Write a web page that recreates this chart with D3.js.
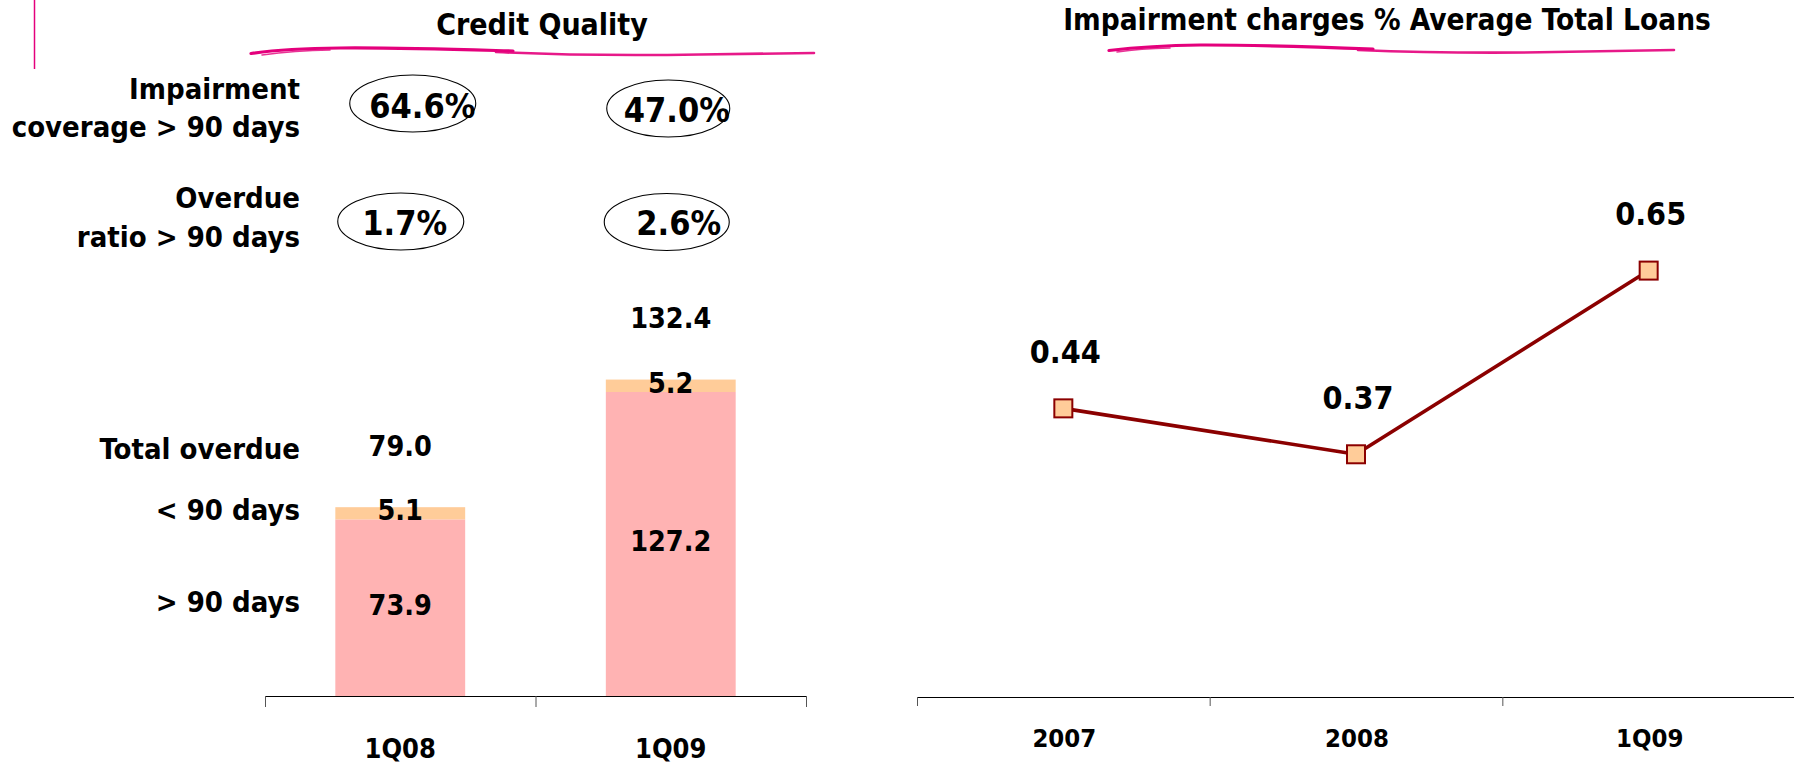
<!DOCTYPE html>
<html>
<head>
<meta charset="utf-8">
<script src="https://cdn.jsdelivr.net/npm/d3@7/dist/d3.min.js"></script>
<style>
  html, body { margin: 0; padding: 0; background: #fff; }
  svg { display: block; }
  text {
    font-family: "DejaVu Sans Condensed", "DejaVu Sans", sans-serif;
    font-stretch: condensed;
    font-weight: bold;
    fill: #000;
  }
</style>
</head>
<body>
<svg id="chart" width="1794" height="765"></svg>
<script>
// ---- Credit quality (left panel) ----
const quarters = ["1Q08", "1Q09"];
const over90 = [73.9, 127.2];        // overdue > 90 days
const under90 = [5.1, 5.2];          // overdue < 90 days
const totalOverdue = [79.0, 132.4];
const coverageRatio = [64.6, 47.0];  // impairment coverage > 90 days (%)
const overdueRatio = [1.7, 2.6];     // overdue ratio > 90 days (%)
const rowLabels = ["Total overdue", "< 90 days", "> 90 days"];

// ---- Impairment charges % average total loans (right panel) ----
const periods = ["2007", "2008", "1Q09"];
const impairmentPct = [0.44, 0.37, 0.65];

const svg = d3.select("#chart");
const ink = "#000";
const magenta = "#e4007c";
const barPink = "#ffb3b3";
const barPeach = "#ffcc99";
const lineRed = "#8b0000";

// decorative bar at the top-left
svg.append("line")
  .attr("x1", 34.5).attr("x2", 34.5).attr("y1", 0).attr("y2", 69)
  .attr("stroke", magenta).attr("stroke-width", 1.5);

// hand-drawn underline swoosh under each panel title
function swoosh(strokes) {
  strokes.forEach(s => {
    svg.append("path").attr("d", s.d).attr("fill", "none")
      .attr("stroke", magenta).attr("stroke-width", s.w)
      .attr("stroke-linecap", "round").attr("opacity", s.o);
  });
}

// ================= LEFT PANEL =================
svg.append("text").attr("x", 542).attr("y", 35)
  .attr("text-anchor", "middle").style("font-size", "30px")
  .text("Credit Quality");

swoosh([
  { d: "M251,53.5 C275,50 300,48.5 340,48 C400,47.5 460,49.5 513,51", w: 3.2, o: 1 },
  { d: "M262,55 C285,52 305,50.5 330,50", w: 1.6, o: 0.8 },
  { d: "M496,52 C560,55 640,55.5 700,54.5 C750,53.8 790,53.2 814,53", w: 2.6, o: 0.9 }
]);

const xBand = d3.scaleBand().domain(quarters).range([265, 806])
  .paddingInner(0.52).paddingOuter(0.26);
const xEdge = d3.scaleLinear().domain([0, quarters.length]).range([265, 806]);
const yBar = d3.scaleLinear().domain([0, 100]).range([696, 457]);
const cx = q => xBand(q) + xBand.bandwidth() / 2;

// stacked bars
const bars = svg.append("g");
bars.selectAll("rect.over").data(quarters).join("rect")
  .attr("class", "over")
  .attr("x", q => xBand(q)).attr("width", xBand.bandwidth())
  .attr("y", (q, i) => yBar(over90[i]))
  .attr("height", (q, i) => yBar(0) - yBar(over90[i]))
  .attr("fill", barPink);
bars.selectAll("rect.under").data(quarters).join("rect")
  .attr("class", "under")
  .attr("x", q => xBand(q)).attr("width", xBand.bandwidth())
  .attr("y", (q, i) => yBar(over90[i] + under90[i]))
  .attr("height", (q, i) => yBar(over90[i]) - yBar(over90[i] + under90[i]))
  .attr("fill", barPeach);

// bar value labels
const valFmt = d3.format(".1f");
const labels = svg.append("g").attr("text-anchor", "middle").style("font-size", "28.5px");
labels.selectAll("text.tot").data(quarters).join("text")
  .attr("x", cx).attr("y", (q, i) => yBar(totalOverdue[i]) - 51.5)
  .text((q, i) => valFmt(totalOverdue[i]));
labels.selectAll("text.und").data(quarters).join("text")
  .attr("x", cx).attr("y", (q, i) => yBar(over90[i]) + 1)
  .text((q, i) => valFmt(under90[i]));
labels.selectAll("text.ovr").data(quarters).join("text")
  .attr("x", cx).attr("y", (q, i) => (yBar(over90[i]) + yBar(0)) / 2 + 7)
  .text((q, i) => valFmt(over90[i]));

// row labels, aligned with the first bar's figures
const rowY = [
  yBar(totalOverdue[0]) - 48.5,
  yBar(over90[0]) + 1,
  (yBar(over90[0]) + yBar(0)) / 2 + 4
];
svg.append("g").attr("text-anchor", "end").style("font-size", "29px")
  .selectAll("text").data(rowLabels).join("text")
  .attr("x", 300).attr("y", (d, i) => rowY[i]).text(d => d);

// ratio row headings
svg.append("g").attr("text-anchor", "end").style("font-size", "29px")
  .call(g => {
    g.append("text").attr("x", 300).attr("y", 99).text("Impairment");
    g.append("text").attr("x", 300).attr("y", 137).text("coverage > 90 days");
    g.append("text").attr("x", 300).attr("y", 208).text("Overdue");
    g.append("text").attr("x", 300).attr("y", 246.5).text("ratio > 90 days");
  });

// ratio callouts in ellipses
const pctFmt = d3.format(".1f");
const callouts = [
  { values: coverageRatio, ey: [103.5, 108.5], ty: [118, 121.5], ex: [12.5, -2.5], tx: [22, 6], rx: [63, 61.5] },
  { values: overdueRatio, ey: [221.5, 222], ty: [235, 235], ex: [0.5, -4], tx: [4.5, 8], rx: [63, 62.5] }
];
callouts.forEach(c => {
  const g = svg.append("g");
  g.selectAll("ellipse").data(quarters).join("ellipse")
    .attr("cx", (q, i) => cx(q) + c.ex[i]).attr("cy", (q, i) => c.ey[i])
    .attr("rx", (q, i) => c.rx[i]).attr("ry", 28.5)
    .attr("fill", "none").attr("stroke", ink).attr("stroke-width", 1.1);
  g.selectAll("text").data(quarters).join("text")
    .attr("text-anchor", "middle").style("font-size", "34px")
    .attr("x", (q, i) => cx(q) + c.tx[i]).attr("y", (q, i) => c.ty[i])
    .text((q, i) => pctFmt(c.values[i]) + "%");
});

// category axis
const axisL = svg.append("g").attr("transform", "translate(0,696)")
  .call(d3.axisBottom(xEdge).tickValues(d3.range(quarters.length + 1))
    .tickFormat("").tickSize(11).tickSizeOuter(0));
axisL.select(".domain").attr("stroke", ink).attr("stroke-width", 1.2);
axisL.selectAll(".tick line").attr("stroke", "#555");
svg.append("g").attr("text-anchor", "middle").style("font-size", "27px")
  .selectAll("text").data(quarters).join("text")
  .attr("x", cx).attr("y", 758).text(d => d);

// ================= RIGHT PANEL =================
svg.append("text").attr("x", 1387).attr("y", 29.5)
  .attr("text-anchor", "middle").style("font-size", "29.5px")
  .text("Impairment charges % Average Total Loans");

swoosh([
  { d: "M1109,50.5 C1135,47.5 1165,45.5 1200,45 C1260,44.8 1320,47 1373,49", w: 3.2, o: 1 },
  { d: "M1117,52 C1135,49.5 1150,48.5 1170,48", w: 1.6, o: 0.8 },
  { d: "M1358,50 C1420,52.5 1480,53 1540,52.3 C1600,51.5 1645,50.5 1674,50", w: 2.6, o: 0.9 }
]);

const xPer = d3.scaleBand().domain(periods).range([917, 1795]);
const xPerEdge = d3.scaleLinear().domain([0, periods.length]).range([917, 1795]);
const yPct = d3.scaleLinear().domain([0, 1]).range([697, 41]);
const px = p => xPer(p) + xPer.bandwidth() / 2;

const axisR = svg.append("g").attr("transform", "translate(0,697)")
  .call(d3.axisBottom(xPerEdge).tickValues(d3.range(periods.length + 1))
    .tickFormat("").tickSize(9).tickSizeOuter(0));
axisR.select(".domain").attr("stroke", ink).attr("stroke-width", 1.2);
axisR.selectAll(".tick line").attr("stroke", "#555");
svg.append("g").attr("text-anchor", "middle").style("font-size", "25.5px")
  .selectAll("text").data(periods).join("text")
  .attr("x", d => px(d) + 1).attr("y", 747).text(d => d);

const line = d3.line().x(d => px(d.p)).y(d => yPct(d.v));
const pts = periods.map((p, i) => ({ p, v: impairmentPct[i] }));
svg.append("path").datum(pts).attr("d", line)
  .attr("fill", "none").attr("stroke", lineRed).attr("stroke-width", 3.6)
  .attr("stroke-linejoin", "round");

const mk = 18;
svg.append("g").selectAll("rect").data(pts).join("rect")
  .attr("x", d => px(d.p) - mk / 2).attr("y", d => yPct(d.v) - mk / 2)
  .attr("width", mk).attr("height", mk)
  .attr("fill", barPeach).attr("stroke", lineRed).attr("stroke-width", 2);

svg.append("g").attr("text-anchor", "middle").style("font-size", "32px")
  .selectAll("text").data(pts).join("text")
  .attr("x", d => px(d.p) + 2).attr("y", d => yPct(d.v) - 45.5)
  .text(d => d3.format(".2f")(d.v));
</script>
</body>
</html>
